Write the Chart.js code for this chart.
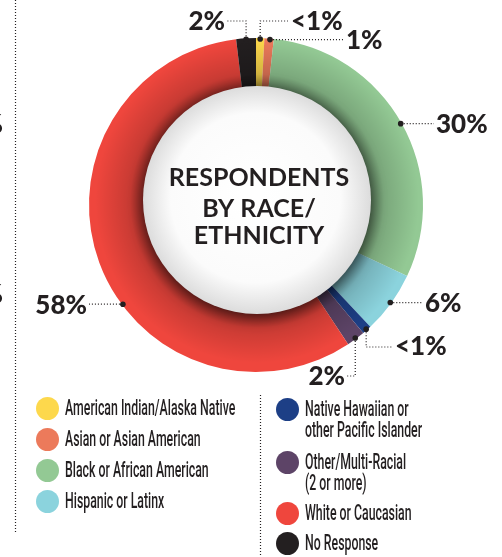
<!DOCTYPE html>
<html><head><meta charset="utf-8">
<script src="https://cdn.jsdelivr.net/npm/chart.js@4"></script>
<style>
html,body{margin:0;padding:0;background:#fff;width:502px;height:557px;overflow:hidden;}
#wrap{position:relative;width:502px;height:557px;}
#c{position:absolute;left:0;top:0;}
.dot{position:absolute;width:23px;height:23px;border-radius:50%;}
.txt{position:absolute;font-family:Roboto,"DejaVu Sans Condensed",sans-serif;font-weight:500;font-size:22px;line-height:21px;color:#231F20;white-space:nowrap;transform:scaleX(0.56);transform-origin:0 0;}
</style></head>
<body><div id="wrap"><canvas id="c" width="502" height="557"></canvas></div>
<script>
// ---- data ----
const categories = ['American Indian/Alaska Native','Asian or Asian American','Black or African American','Hispanic or Latinx','Native Hawaiian or other Pacific Islander','Other/Multi-Racial (2 or more)','White or Caucasian','No Response'];
const legendLabels = ['American Indian/Alaska Native','Asian or Asian American','Black or African American','Hispanic or Latinx','Native Hawaiian or\nother Pacific Islander','Other/Multi-Racial\n(2 or more)','White or Caucasian','No Response'];
const values = [0.8, 0.9, 30.3, 6.0, 0.9, 1.8, 57.4, 1.9];
const pctLabels = ['<1%','1%','30%','6%','<1%','2%','58%','2%'];
const colors = ['#FDD84C','#EC7A5B','#93C994','#8BD3DD','#1D3F86','#5D4467','#EF463D','#231F20'];
const centerTitle = ['RESPONDENTS','BY RACE/','ETHNICITY'];

// ---- label layout (positions only) ----
const labelLayout = [
  {frac:0.5, route:[['v',21],['h',288]], align:'left', tx:291, ty:22},
  {frac:0.6, route:[['h',344]], align:'left', tx:346},
  {frac:0.5, route:[['h',434]], align:'left', tx:436},
  {frac:0.5, route:[['h',423]], align:'left', tx:425},
  {frac:0.5, route:[['v',347],['h',392]], align:'left', tx:395, ty:347},
  {frac:0.5, route:[['v',376],['h',347]], align:'right', tx:345, ty:377},
  {frac:0.42, route:[['h',89]], align:'right', tx:87},
  {frac:0.5, route:[['v',21],['h',227]], align:'right', tx:225, ty:22}
];
const INK = '#231F20';
const PCT_FONT = '900 26px Lato';

const deco = {
  id:'deco',
  beforeDraw(chart){
    const ctx = chart.ctx;
    ctx.save();
    ctx.strokeStyle = INK; ctx.lineWidth = 1.2; ctx.setLineDash([1,2]);
    ctx.beginPath(); ctx.moveTo(15.5,0); ctx.lineTo(15.5,532); ctx.stroke();
    ctx.beginPath(); ctx.moveTo(260.5,395); ctx.lineTo(260.5,557); ctx.stroke();
    ctx.setLineDash([]);
    ctx.fillStyle = INK;
    ctx.font = PCT_FONT;
    ctx.textAlign = 'right'; ctx.textBaseline = 'middle';
    ctx.fillText('%', 3, 125);
    ctx.fillText('%', 3, 295);
    ctx.restore();
  },
  afterDatasetsDraw(chart){
    const ctx = chart.ctx;
    const arcs = chart.getDatasetMeta(0).data;
    const a0 = arcs[0];
    const cx = a0.x, cy = a0.y, R = a0.outerRadius;
    ctx.save();
    ctx.beginPath();
    ctx.arc(cx, cy, R, 0, Math.PI*2);
    ctx.arc(cx, cy, 95, 0, Math.PI*2, true);
    ctx.clip();
    const g = ctx.createRadialGradient(cx+1, cy-4, 108, cx+1, cy-4, 162);
    g.addColorStop(0, 'rgba(0,0,0,0.5)');
    g.addColorStop(0.35, 'rgba(0,0,0,0.17)');
    g.addColorStop(1, 'rgba(0,0,0,0)');
    ctx.fillStyle = g;
    ctx.fillRect(0,0,chart.width,chart.height);
    ctx.restore();
    ctx.save();
    const dx = cx+1, dy = cy-5, dr = 114;
    ctx.shadowColor = 'rgba(0,0,0,0.55)'; ctx.shadowBlur = 16; ctx.shadowOffsetY = 3;
    const wg = ctx.createRadialGradient(dx-5, dy-8, 10, dx, dy, dr);
    wg.addColorStop(0, '#ffffff');
    wg.addColorStop(0.72, '#fbfbfb');
    wg.addColorStop(1, '#dcdcdc');
    ctx.fillStyle = wg;
    ctx.beginPath(); ctx.arc(dx, dy, dr, 0, Math.PI*2); ctx.fill();
    ctx.restore();
    ctx.save();
    ctx.fillStyle = INK; ctx.font = 'bold 25px Lato';
    ctx.textAlign = 'center'; ctx.textBaseline = 'middle';
    const ys = [178, 209, 236];
    centerTitle.forEach((t,i)=>ctx.fillText(t, cx+3, ys[i]));
    ctx.restore();
    ctx.save();
    arcs.forEach((arc,i)=>{
      const L = labelLayout[i];
      const ang = arc.startAngle + (arc.endAngle-arc.startAngle)*L.frac;
      const rr = arc.outerRadius - 1;
      let x = arc.x + Math.cos(ang)*rr, y = arc.y + Math.sin(ang)*rr;
      ctx.fillStyle = INK;
      ctx.beginPath(); ctx.arc(x, y, 2.8, 0, Math.PI*2); ctx.fill();
      ctx.strokeStyle = INK; ctx.lineWidth = 1.2; ctx.setLineDash([1,2]);
      ctx.beginPath(); ctx.moveTo(x, y);
      L.route.forEach(s=>{ if(s[0]==='v') y = s[1]; else x = s[1]; ctx.lineTo(x, y); });
      ctx.stroke(); ctx.setLineDash([]);
      ctx.font = PCT_FONT; ctx.textBaseline = 'middle'; ctx.textAlign = L.align;
      ctx.fillText(pctLabels[i], L.tx, L.ty !== undefined ? L.ty : y+1);
    });
    ctx.restore();
  }
};

new Chart(document.getElementById('c'), {
  type:'doughnut',
  data:{ labels:categories, datasets:[{ data:values, backgroundColor:colors, borderWidth:0 }] },
  options:{
    responsive:false, animation:false, devicePixelRatio:1,
    cutout:'62%',
    layout:{ padding:{ top:38, bottom:185, left:89, right:79 } },
    plugins:{ legend:{display:false}, tooltip:{enabled:false} }
  },
  plugins:[deco]
});

// ---- legend ----
const legendPos = [
  {x:36, cy:408},{x:36, cy:439},{x:36, cy:470},{x:36, cy:501},
  {x:276, cy:409},{x:276, cy:462},{x:276, cy:513},{x:276, cy:543}
];
const wrap = document.getElementById('wrap');
legendLabels.forEach((lab,i)=>{
  const p = legendPos[i];
  const d = document.createElement('div'); d.className='dot';
  d.style.left = p.x+'px'; d.style.top = (p.cy-11.5)+'px'; d.style.background = colors[i];
  wrap.appendChild(d);
  const t = document.createElement('div'); t.className='txt';
  t.style.left = (p.x+29)+'px'; t.style.top = (p.cy-11)+'px';
  t.innerHTML = lab.split('\n').map(s=>s.replace(/&/g,'&amp;').replace(/</g,'&lt;')).join('<br>');
  wrap.appendChild(t);
});
</script></body></html>
